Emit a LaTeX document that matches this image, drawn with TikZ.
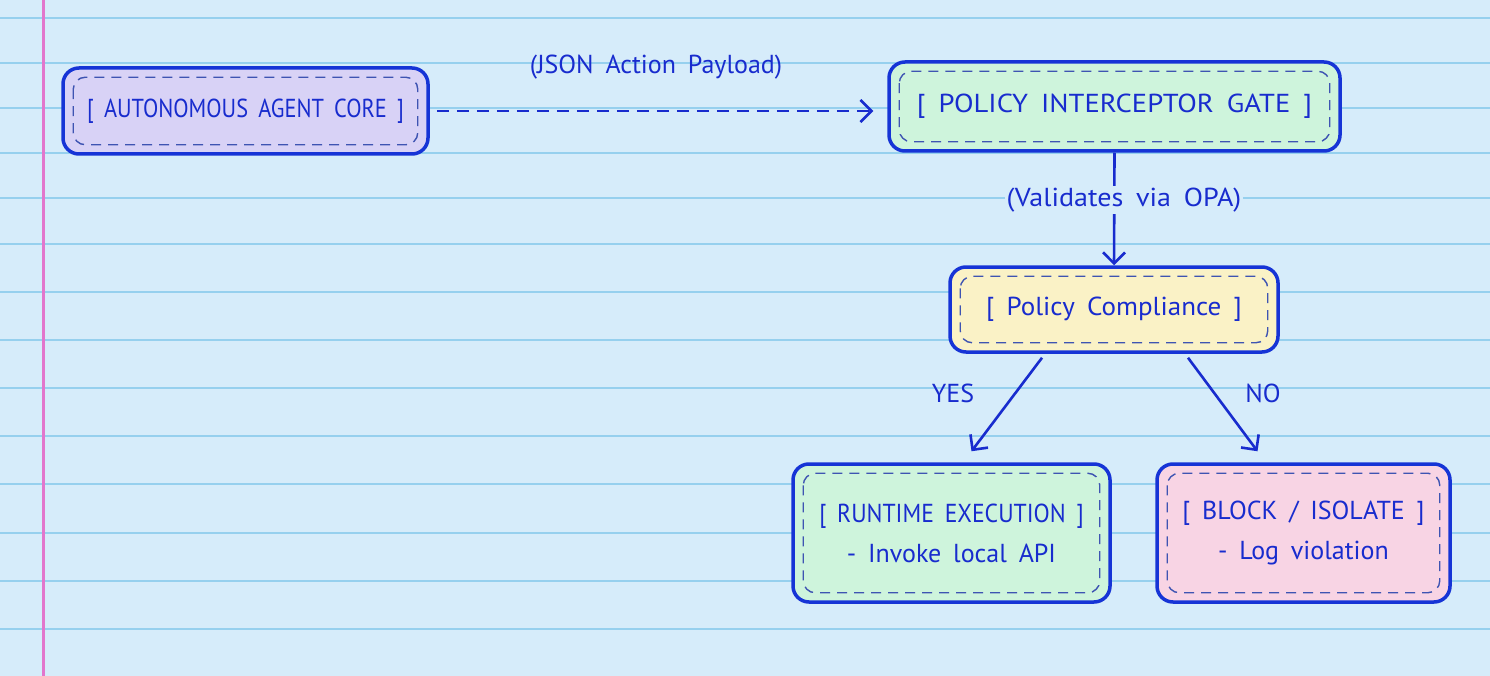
\documentclass[tikz,border=0pt]{standalone}
\usepackage{fontspec}
\usepackage{graphicx}
\setmainfont{PT Sans}[WordSpace=1.7]
\usetikzlibrary{arrows.meta}

\definecolor{paper}{RGB}{214,236,250}
\definecolor{ruling}{RGB}{150,208,238}
\definecolor{margin}{RGB}{226,118,204}
\definecolor{ink}{RGB}{24,44,206}
\definecolor{frame}{RGB}{22,52,214}
\definecolor{dashink}{RGB}{62,84,178}
\definecolor{lavender}{RGB}{216,210,246}
\definecolor{mint}{RGB}{206,244,220}
\definecolor{cream}{RGB}{250,242,198}
\definecolor{blush}{RGB}{248,212,228}

% horizontal stretch of one line of hand lettering
\newcommand{\stretchline}[2]{\scalebox{#1}[1]{#2}}

\tikzset{
  card/.style={draw=frame, line width=3.5pt, rounded corners=16pt, inner sep=0pt,
    text=ink, font=\fontsize{26}{40}\selectfont, align=center},
  innerdash/.style={draw=dashink, line width=1.4pt, dash pattern=on 10pt off 7pt, rounded corners=12pt},
  flow/.style={draw=ink, line width=2.6pt, -{Straight Barb[length=11pt,width=22pt,line width=2.6pt]}},
  tag/.style={text=ink, font=\fontsize{26}{30}\selectfont}
}

\begin{document}
\begin{tikzpicture}[x=1pt,y=-1pt]
% paper
\useasboundingbox[fill=paper] (0,0) rectangle (1490,676);
\foreach \ly in {18,63,108,153,198,244,292,340,388,436,484,533,581,629}
  \draw[ruling, line width=1.6pt] (0,\ly) -- (1490,\ly);
\draw[margin, line width=3pt] (43,0) -- (43,676);
% boxes
\node[card, fill=lavender, minimum width=365pt, minimum height=86pt] (agent) at (245.5,111) {\stretchline{0.86}{[ AUTONOMOUS AGENT CORE ]}};
\node[card, fill=mint, minimum width=451pt, minimum height=89pt] (gate) at (1114.5,106.5) {\stretchline{1.1}{[ POLICY INTERCEPTOR GATE ]}};
\node[card, fill=cream, minimum width=328pt, minimum height=85pt] (check) at (1114,309.5) {\stretchline{1.04}{[ Policy Compliance ]}};
\node[card, fill=mint, minimum width=317pt, minimum height=138pt] (run) at (951.5,533) {\stretchline{0.91}{[ RUNTIME EXECUTION ]}\\- Invoke local API};
\node[card, fill=blush, minimum width=293pt, minimum height=138pt] (block) at (1303.5,533) {[ BLOCK / ISOLATE ]\\- Log violation};
% inner dashed frames
\foreach \b in {agent,gate,check,run,block}
  \draw[innerdash] ([xshift=12pt,yshift=-11pt]\b.north west) rectangle ([xshift=-12pt,yshift=11pt]\b.south east);
% connectors
\draw[flow, dash pattern=on 12pt off 8pt] ([xshift=7pt]agent.east) -- ([xshift=-14pt]agent.east -| gate.west);
\node[tag] (payload) at (656,67) {(JSON Action Payload)};
\draw[flow] (gate.south) -- (check.north);
\node[tag, fill=paper, inner sep=2pt] (opa) at (1124,200) {\stretchline{1.08}{(Validates via OPA)}};
\draw[flow] ([xshift=-72pt,yshift=-4pt]check.south) -- ([xshift=20pt,yshift=11pt]run.north);
\draw[flow] ([xshift=74pt,yshift=-4pt]check.south) -- ([xshift=-46pt,yshift=11pt]block.north);
\node[tag] (yes) at (953,393) {YES};
\node[tag] (no) at (1263,393) {NO};
\end{tikzpicture}
\end{document}
